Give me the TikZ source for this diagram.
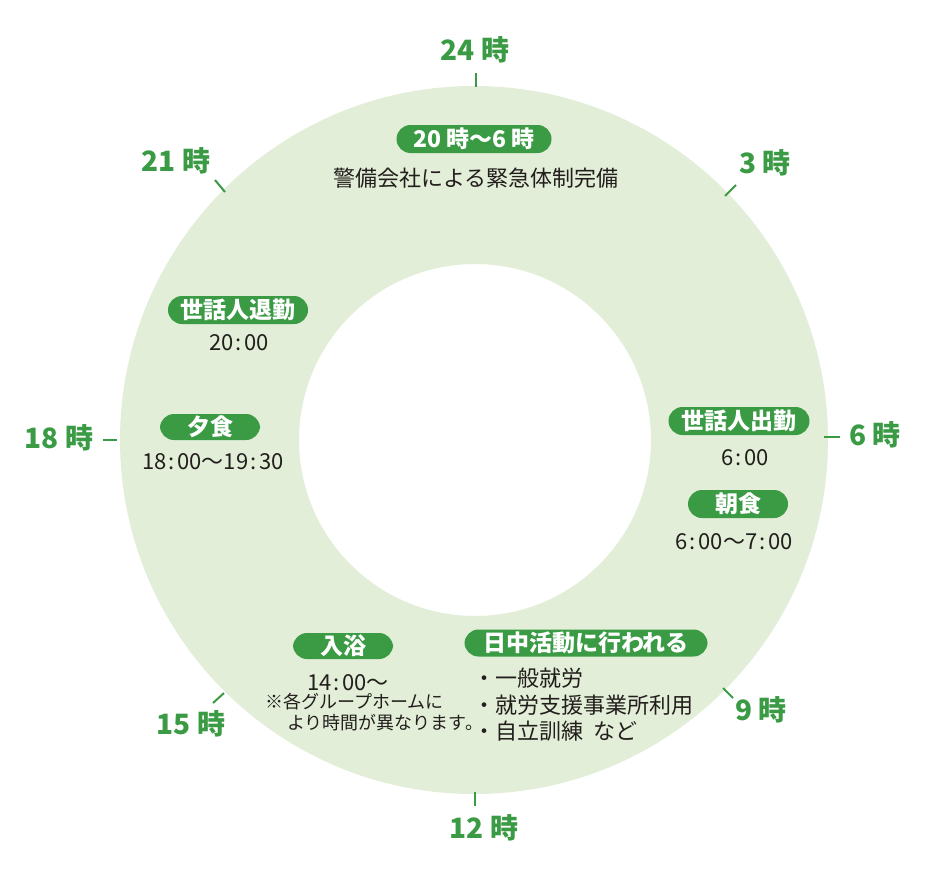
\documentclass[tikz,border=0pt]{standalone}
\usepackage{fontspec}
\newfontfamily\jp{Noto Sans CJK JP}
\definecolor{ringgreen}{RGB}{226,238,216}
\definecolor{pillgreen}{RGB}{58,155,68}
\definecolor{labgreen}{RGB}{58,155,68}
\definecolor{ink}{RGB}{34,30,28}
\newcommand{\cln}{\hspace{2.5pt}:\hspace{2.5pt}}
\begin{document}
\begin{tikzpicture}[x=1pt,y=-1pt,
  pill/.style={fill=pillgreen,text=white,rounded corners=14pt,minimum height=28pt,inner xsep=6pt,inner ysep=0pt,font=\jp\bfseries\fontsize{23}{23}\selectfont},
  body/.style={text=ink,inner sep=0pt,font=\jp\fontsize{22}{26}\selectfont},
  small/.style={text=ink,inner sep=0pt,font=\jp\fontsize{18}{21}\selectfont},
  hour/.style={text=labgreen,inner sep=0pt,font=\jp\bfseries\fontsize{28}{28}\selectfont},
  tick/.style={draw=labgreen,line width=2pt}]
\useasboundingbox (0,0) rectangle (934,878);
\fill[white] (0,0) rectangle (934,878);
% ring
\fill[ringgreen,even odd rule] (474,440) circle[radius=354] (475,440) circle[radius=176];
% ticks
\draw[tick] (476,73) -- (476,87);
\draw[tick] (725,196) -- (736,185);
\draw[tick] (824,437) -- (840,437);
\draw[tick] (723,688) -- (733,698);
\draw[tick] (475,792) -- (475,806);
\draw[tick] (213,703) -- (224,693);
\draw[tick] (103,440) -- (117,440);
\draw[tick] (215,180) -- (225,192);
% hour labels
\node[hour] (h24) at (475,50) {24 時};
\node[hour] (h3) at (765,163) {3 時};
\node[hour] (h6) at (875,435) {6 時};
\node[hour] (h9) at (761,710) {9 時};
\node[hour] (h12) at (484,828) {12 時};
\node[hour] (h15) at (191,724) {15 時};
\node[hour] (h18) at (59,438) {18 時};
\node[hour] (h21) at (176,161) {21 時};
% night
\node[pill,minimum width=155pt] (night) at (474,139) {20 時〜6 時};
\node[body] (nighttxt) at (476,178) {警備会社による緊急体制完備};
% staff leave
\node[pill,minimum width=140pt] (leave) at (238,310) {世話人退勤};
\node[body] (leavet) at (239,343) {20\cln00};
% dinner
\node[pill,minimum width=100pt,minimum height=26pt] (dinner) at (210,427) {夕食};
\node[body] (dinnert) at (213,462) {18\cln00〜19\cln30};
% staff arrive
\node[pill,minimum width=141pt] (arrive) at (739,421) {世話人出勤};
\node[body] (arrivet) at (745,458) {6\cln00};
% breakfast
\node[pill,minimum width=100pt] (bfast) at (738,504) {朝食};
\node[body] (bfastt) at (734,542) {6\cln00〜7\cln00};
% bath
\node[pill,minimum width=100pt,minimum height=26pt] (bath) at (343,646) {入浴};
\node[body] (batht) at (348,683) {14\cln00〜};
\node[small,anchor=west] (note1) at (265,702) {※各グループホームに};
\node[small,anchor=west] (note2) at (287,723) {より時間が異なります。};
% day activity
\node[pill,minimum width=243pt,minimum height=27pt] (day) at (586,643) {日中活動に行われる};
\node[body,anchor=west] (d1) at (473,678) {・一般就労};
\node[body,anchor=west] (d2) at (473,705) {・就労支援事業所利用};
\node[body,anchor=west] (d3) at (473,731) {・自立訓練\ \ など};
\end{tikzpicture}
\end{document}
